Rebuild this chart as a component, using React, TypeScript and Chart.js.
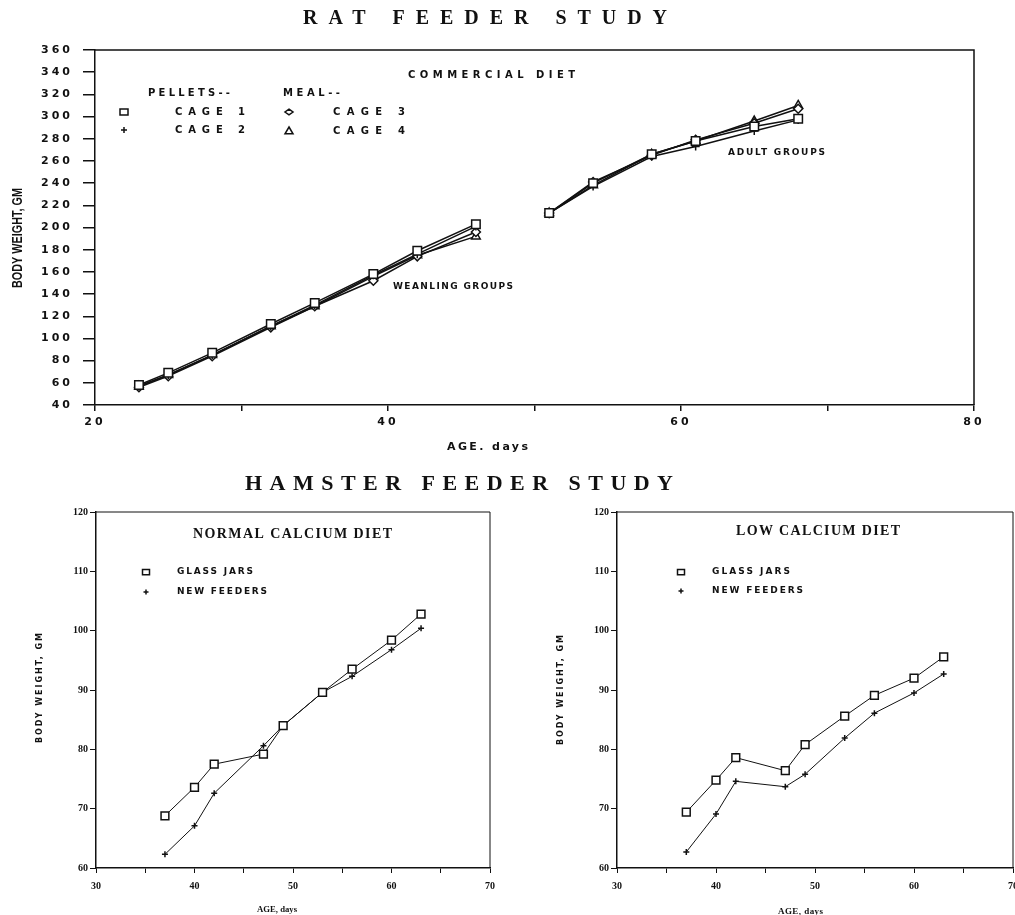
import React, { useEffect, useRef } from 'react';
import { Chart, registerables } from 'chart.js';

Chart.register(...registerables);

// ---------- DATA ----------
const ratWeanlingDays = [23, 25, 28, 32, 35, 39, 42, 46];
const ratAdultDays = [51, 54, 58, 61, 65, 68];

const cage1Weanling = [58, 69, 87, 113, 132, 158, 179, 203];
const cage2Weanling = [57, 67, 85, 111, 130, 157, 176, 201];
const cage3Weanling = [56, 66, 84, 110, 129, 152, 174, 196];
const cage4Weanling = [57, 67, 85, 111, 129, 156, 175, 192];

const cage1Adult = [213, 240, 266, 278, 291, 298];
const cage2Adult = [213, 237, 264, 273, 287, 297];
const cage3Adult = [213, 241, 265, 279, 294, 307];
const cage4Adult = [213, 238, 266, 278, 296, 310];

const ratXTicks = [20, 40, 60, 80];

const hamsterDays = [37, 40, 42, 47, 49, 53, 56, 60, 63];
const normalGlassJars = [68.8, 73.6, 77.5, 79.2, 84.0, 89.6, 93.5, 98.4, 102.8];
const normalNewFeeders = [62.3, 67.1, 72.6, 80.6, 84.0, 89.6, 92.3, 96.8, 100.4];
const lowGlassJars = [69.4, 74.8, 78.6, 76.4, 80.8, 85.6, 89.1, 92.0, 95.6];
const lowNewFeeders = [62.7, 69.1, 74.6, 73.7, 75.8, 81.9, 86.1, 89.5, 92.7];

const hamsterXTicks = [30, 40, 50, 60, 70];

// ---------- helpers ----------
const INK = '#111';

function fitText(ctx: any, text: string, x0: number, x1: number, y: number, font: string) {
  ctx.save();
  ctx.font = font;
  ctx.letterSpacing = '0px';
  ctx.fillStyle = INK;
  ctx.textBaseline = 'middle';
  ctx.textAlign = 'left';
  const w = ctx.measureText(text).width;
  const target = x1 - x0;
  const n = text.length;
  const ls = n > 1 ? (target - w) / (n - 1) : 0;
  if (ls >= 0) {
    ctx.letterSpacing = ls + 'px';
    ctx.fillText(text, x0, y);
  } else {
    ctx.translate(x0, y);
    ctx.scale(target / w, 1);
    ctx.fillText(text, 0, 0);
  }
  ctx.restore();
}

function fitTextVertical(ctx: any, text: string, x: number, yBottom: number, yTop: number, font: string) {
  ctx.save();
  ctx.translate(x, yBottom);
  ctx.rotate(-Math.PI / 2);
  fitText(ctx, text, 0, yBottom - yTop, 0, font);
  ctx.restore();
}

function marker(ctx: any, kind: string, x: number, y: number, r: number) {
  ctx.save();
  ctx.strokeStyle = INK;
  ctx.lineWidth = 1.5;
  ctx.beginPath();
  if (kind === 'square') {
    ctx.rect(x - r, y - r * 0.75, 2 * r, 1.5 * r);
  } else if (kind === 'plus') {
    ctx.moveTo(x - r, y); ctx.lineTo(x + r, y);
    ctx.moveTo(x, y - r); ctx.lineTo(x, y + r);
  } else if (kind === 'diamond') {
    ctx.moveTo(x, y - r * 0.7); ctx.lineTo(x + r, y); ctx.lineTo(x, y + r * 0.7); ctx.lineTo(x - r, y); ctx.closePath();
  } else if (kind === 'triangle') {
    ctx.moveTo(x, y - r); ctx.lineTo(x + r, y + r * 0.7); ctx.lineTo(x - r, y + r * 0.7); ctx.closePath();
  }
  ctx.stroke();
  ctx.restore();
}

function frame(chart: any, width: number) {
  const { ctx, chartArea } = chart;
  ctx.save();
  ctx.strokeStyle = INK;
  ctx.lineWidth = width;
  ctx.beginPath();
  ctx.moveTo(chartArea.left, chartArea.top);
  ctx.lineTo(chartArea.right, chartArea.top);
  ctx.lineTo(chartArea.right, chartArea.bottom);
  ctx.stroke();
  ctx.restore();
}

function series(label: string, days: number[], vals: number[], style: string, radius: number, lw: number) {
  return {
    label,
    data: days.map((d, i) => ({ x: d, y: vals[i] })),
    borderColor: INK,
    borderWidth: lw,
    pointStyle: style,
    pointRadius: radius,
    pointBorderColor: INK,
    pointBackgroundColor: '#fff',
    pointBorderWidth: 1.5,
    tension: 0,
    fill: false,
  };
}

// ---------- Rat chart ----------
function ratConfig(): any {
  const tickFont = { family: 'DejaVu Sans', weight: 'bold', size: 11 };
  const ratText = {
    id: 'ratText',
    beforeDraw(chart: any) { chart.ctx.letterSpacing = '3px'; },
    afterDraw(chart: any) {
      const ctx = chart.ctx;
      ctx.letterSpacing = '0px';
      frame(chart, 1.5);
      fitText(ctx, 'RAT FEEDER STUDY', 303, 667, 19, 'bold 20px "Liberation Serif"');
      fitText(ctx, 'HAMSTER FEEDER STUDY', 245, 673, 484, 'bold 22px "Liberation Serif"');
      const f10 = 'bold 10px "DejaVu Sans"';
      const f9 = 'bold 9px "DejaVu Sans"';
      fitText(ctx, 'COMMERCIAL DIET', 408, 575, 75, f10);
      fitText(ctx, 'PELLETS--', 148, 230, 93, f10);
      fitText(ctx, 'MEAL--', 283, 340, 93, f10);
      fitText(ctx, 'CAGE 1', 175, 245, 112, f10);
      fitText(ctx, 'CAGE 3', 333, 405, 112, f10);
      fitText(ctx, 'CAGE 2', 175, 245, 130, f10);
      fitText(ctx, 'CAGE 4', 333, 405, 131, f10);
      marker(ctx, 'square', 124, 112, 4);
      marker(ctx, 'plus', 124, 130, 3);
      marker(ctx, 'diamond', 289, 112, 4);
      marker(ctx, 'triangle', 289, 131, 4);
      fitText(ctx, 'WEANLING GROUPS', 393, 513, 287, f9);
      fitText(ctx, 'ADULT GROUPS', 728, 825, 153, f9);
      fitText(ctx, 'AGE. days', 447, 528, 447, 'bold 11px "DejaVu Sans"');
      fitTextVertical(ctx, 'BODY WEIGHT, GM', 18, 288, 188, 'bold 15px "Liberation Sans Narrow", "Liberation Sans"');
    },
  };
  return {
    type: 'line',
    data: {
      datasets: [
        series('Cage 1', ratWeanlingDays, cage1Weanling, 'rect', 6, 1.5),
        series('Cage 2', ratWeanlingDays, cage2Weanling, 'cross', 4, 1.5),
        series('Cage 3', ratWeanlingDays, cage3Weanling, 'rectRot', 4.5, 1.5),
        series('Cage 4', ratWeanlingDays, cage4Weanling, 'triangle', 5, 1.5),
        series('Cage 1 adult', ratAdultDays, cage1Adult, 'rect', 6, 1.5),
        series('Cage 2 adult', ratAdultDays, cage2Adult, 'cross', 4, 1.5),
        series('Cage 3 adult', ratAdultDays, cage3Adult, 'rectRot', 4.5, 1.5),
        series('Cage 4 adult', ratAdultDays, cage4Adult, 'triangle', 5, 1.5),
      ],
    },
    options: {
      animation: false,
      responsive: false,
      events: [],
      layout: { padding: { top: 50, left: 10, right: 41, bottom: 53 } },
      plugins: { legend: { display: false }, title: { display: false }, tooltip: { enabled: false } },
      scales: {
        x: {
          type: 'linear', min: 20, max: 80,
          ticks: {
            stepSize: 10, autoSkip: false, maxRotation: 0, color: INK, font: tickFont, padding: 5,
            callback: (v: number) => (ratXTicks.includes(v) ? String(v) : ''),
          },
          grid: { drawOnChartArea: false, drawTicks: true, tickLength: 6, color: INK, lineWidth: 1.5 },
          border: { display: true, color: INK, width: 1.5 },
          afterFit: (s: any) => { s.height = 40; s.paddingLeft = 0; s.paddingRight = 0; },
        },
        y: {
          type: 'linear', min: 40, max: 360,
          ticks: { stepSize: 20, autoSkip: false, color: INK, font: tickFont, padding: 10 },
          grid: { drawOnChartArea: false, drawTicks: true, tickLength: 12, color: INK, lineWidth: 1.5 },
          border: { display: true, color: INK, width: 1.5 },
          afterFit: (s: any) => { s.width = 85; s.paddingTop = 0; s.paddingBottom = 0; },
        },
      },
    },
    plugins: [ratText],
  };
}

// ---------- Hamster charts ----------
function hamsterConfig(which: 'normal' | 'low'): any {
  const normal = which === 'normal';
  const tickFont = { family: 'Liberation Serif', weight: 'bold', size: 10 };
  const t = normal
    ? { title: 'NORMAL CALCIUM DIET', tx0: 193, tx1: 392, ty: 36, mx: 146, lx0: 177, g1: 253, n1: 267, gy: 74, ny: 94, yx: 40, yb: 245, yt: 135, ax0: 257, ax1: 297, ay: 412 }
    : { title: 'LOW CALCIUM DIET', tx0: 231, tx1: 395, ty: 33, mx: 176, lx0: 207, g1: 285, n1: 298, gy: 74, ny: 93, yx: 56, yb: 247, yt: 137, ax0: 273, ax1: 318, ay: 414 };
  const txt = {
    id: 'hamText',
    afterDraw(chart: any) {
      const ctx = chart.ctx;
      frame(chart, 1);
      const f9 = 'bold 9px "DejaVu Sans"';
      fitText(ctx, t.title, t.tx0, t.tx1, t.ty, 'bold 14px "Liberation Serif"');
      fitText(ctx, 'GLASS JARS', t.lx0, t.g1, t.gy, f9);
      fitText(ctx, 'NEW FEEDERS', t.lx0, t.n1, t.ny, f9);
      marker(ctx, 'square', t.mx, t.gy, 3.5);
      marker(ctx, 'plus', t.mx, t.ny, 2.5);
      fitTextVertical(ctx, 'BODY WEIGHT, GM', t.yx, t.yb, t.yt, 'bold 8px "DejaVu Sans"');
      fitText(ctx, 'AGE, days', t.ax0, t.ax1, t.ay, 'bold 9px "Liberation Serif"');
    },
  };
  return {
    type: 'line',
    data: {
      datasets: [
        series('Glass jars', hamsterDays, normal ? normalGlassJars : lowGlassJars, 'rect', 5.5, 1),
        series('New feeders', hamsterDays, normal ? normalNewFeeders : lowNewFeeders, 'cross', 3, 1),
      ],
    },
    options: {
      animation: false,
      responsive: false,
      events: [],
      layout: { padding: normal ? { top: 14, left: 10, right: 15, bottom: 17 } : { top: 14, left: 10, right: 12, bottom: 17 } },
      plugins: { legend: { display: false }, title: { display: false }, tooltip: { enabled: false } },
      scales: {
        x: {
          type: 'linear', min: 30, max: 70,
          ticks: {
            stepSize: 5, autoSkip: false, maxRotation: 0, color: INK, font: tickFont, padding: 7,
            callback: (v: number) => (hamsterXTicks.includes(v) ? String(v) : ''),
          },
          grid: { drawOnChartArea: false, drawTicks: true, tickLength: 5, color: INK, lineWidth: 1 },
          border: { display: true, color: INK, width: 1.5 },
          afterFit: (s: any) => { s.height = 30; s.paddingLeft = 0; s.paddingRight = 0; },
        },
        y: {
          type: 'linear', min: 60, max: 120,
          ticks: { stepSize: 10, autoSkip: false, color: INK, font: tickFont, padding: 2 },
          grid: { drawOnChartArea: false, drawTicks: true, tickLength: 6, color: INK, lineWidth: 1 },
          border: { display: true, color: INK, width: 1.5 },
          afterFit: (s: any) => { s.width = normal ? 86 : 102; s.paddingTop = 0; s.paddingBottom = 0; },
        },
      },
    },
    plugins: [txt],
  };
}

function ChartBox(props: { left: number; top: number; width: number; height: number; makeConfig: () => any }) {
  const ref = useRef<HTMLCanvasElement | null>(null);
  useEffect(() => {
    const chart = new Chart(ref.current as HTMLCanvasElement, props.makeConfig());
    return () => chart.destroy();
  }, []);
  return (
    <canvas
      ref={ref}
      width={props.width}
      height={props.height}
      style={{ position: 'absolute', left: props.left, top: props.top, width: props.width, height: props.height }}
    />
  );
}

export default function App() {
  return (
    <div style={{ position: 'absolute', left: 0, top: 0, width: 1015, height: 915, background: '#fff', overflow: 'hidden' }}>
      <ChartBox left={0} top={0} width={1015} height={498} makeConfig={ratConfig} />
      <ChartBox left={0} top={498} width={505} height={417} makeConfig={() => hamsterConfig('normal')} />
      <ChartBox left={505} top={498} width={520} height={417} makeConfig={() => hamsterConfig('low')} />
    </div>
  );
}
